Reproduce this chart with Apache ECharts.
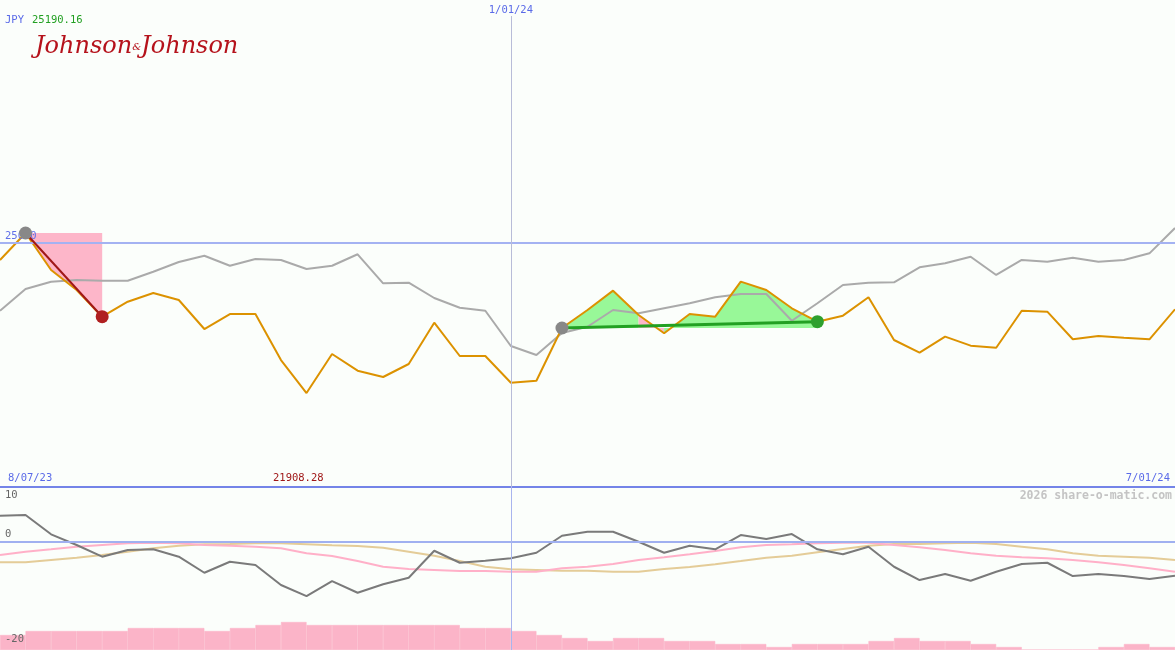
<!DOCTYPE html>
<html><head><meta charset="utf-8">
<script src="https://cdn.jsdelivr.net/npm/echarts@6/dist/echarts.min.js"></script>
<style>html,body{margin:0;padding:0;background:#fbfefb}#c{width:1175px;height:650px}</style>
</head><body><div id="c"></div>
<script>
// ---- data (weekly, 8/07/23 .. 7/01/24) ----
const dateLabels = ['8/07/23', '1/01/24', '7/01/24'];
const dateLabelIndex = [0, 20, 46];
const currency = 'JPY';
const lastPrice = '25190.16';
const minPrice = 21908.28;
const refLevel = 25000;

// share price in JPY (grey)
const priceJPY = [24142,24417,24510,24531,24522,24522,24636,24759,24839,24712,24797,24785,24671,24712,24857,24489,24497,24303,24180,24142,23695,23581,23860,23939,24151,24109,24173,24236,24312,24354,24354,24015,24236,24468,24497,24502,24692,24743,24826,24595,24785,24763,24814,24763,24785,24869,25190.16];
// share price in home currency, on the same scale (orange)
const priceLocal = [24785,25127,24658,24404,24066,24256,24366,24278,23910,24100,24100,23517,23099,23594,23382,23302,23467,23990,23568,23568,23230,23255,23923,24151,24396,24088,23856,24100,24066,24510,24404,24173,24003,24079,24312,23771,23610,23813,23699,23673,24142,24130,23780,23822,23800,23780,24160];

// lower panel indicators
const momentum = [4.71,4.84,1.29,-0.68,-2.83,-1.60,-1.47,-2.83,-5.78,-3.75,-4.36,-8.04,-10.07,-7.31,-9.46,-7.91,-6.70,-1.73,-3.94,-3.57,-3.13,-2.10,1.03,1.77,1.77,-0.07,-2.10,-0.81,-1.47,1.16,0.42,1.34,-1.47,-2.39,-0.99,-4.68,-7.12,-6.02,-7.25,-5.60,-4.18,-3.94,-6.39,-6.02,-6.39,-6.94,-6.33];
const avgFast = [-2.52,-1.91,-1.47,-0.99,-0.68,-0.37,-0.26,-0.37,-0.68,-0.81,-0.99,-1.29,-2.21,-2.71,-3.63,-4.68,-5.10,-5.28,-5.47,-5.47,-5.60,-5.60,-4.97,-4.68,-4.18,-3.44,-2.94,-2.39,-1.79,-1.10,-0.68,-0.55,-0.37,-0.26,-0.26,-0.68,-1.10,-1.60,-2.21,-2.65,-2.94,-3.13,-3.44,-3.87,-4.36,-4.97,-5.60];
const avgSlow = [-3.87,-3.87,-3.44,-3.02,-2.52,-1.91,-1.29,-0.81,-0.55,-0.50,-0.37,-0.37,-0.55,-0.74,-0.87,-1.18,-1.91,-2.65,-3.63,-4.68,-5.16,-5.28,-5.41,-5.41,-5.60,-5.60,-5.10,-4.73,-4.23,-3.63,-3.02,-2.65,-2.02,-1.42,-0.81,-0.50,-0.50,-0.37,-0.26,-0.50,-0.99,-1.47,-2.21,-2.65,-2.83,-3.02,-3.44];
const volume = [15,19,19,19,19,22,22,22,19,22,25,28,25,25,25,25,25,25,22,22,19,15,12,9,12,12,9,9,6,6,3,6,6,6,9,12,9,9,6,3,0,0,0,3,6,3];
const lowerTicks = [10, 0, -20];

// trades: [startIndex, endIndex]
const lossTrade = [1, 4];
const gainTrade = [22, 32];
const gainDipSegment = [25, 26];

// ---- build ----
const N = priceJPY.length;
const pts = (arr, a, b) => { const o = []; for (let i = a; i <= b; i++) o.push([i, arr[i]]); return o; };
const mono = '"DejaVu Sans Mono", monospace';
const yTop = 16, yMid = 487;
const pxPer = (refLevel - minPrice) / (yMid - 243);
const yMax = minPrice + (yMid - yTop) * pxPer;

function area(a, b, origin, color) {
  return { type: 'line', xAxisIndex: 0, yAxisIndex: 0, data: pts(priceLocal, a, b), symbol: 'none',
    lineStyle: { width: 0, opacity: 0 }, areaStyle: { color, opacity: 1, origin }, silent: true, z: 1 };
}

const chart = echarts.init(document.getElementById('c'), null, { renderer: 'canvas' });
chart.setOption({
  animation: false,
  backgroundColor: '#fbfefb',
  grid: [
    { left: 0, right: 0, top: yTop, height: yMid - yTop },
    { left: 0, right: 0, top: yMid, bottom: 0 }
  ],
  xAxis: [
    { type: 'value', gridIndex: 0, min: 0, max: N - 1, show: false },
    { type: 'value', gridIndex: 1, min: 0, max: N - 1, show: false },
    { type: 'category', gridIndex: 1, data: volume.map((v, i) => i), boundaryGap: true, show: false }
  ],
  yAxis: [
    { type: 'value', gridIndex: 0, min: minPrice, max: yMax, show: false },
    { type: 'value', gridIndex: 1, min: -20, max: 10, show: false },
    { type: 'value', gridIndex: 1, min: 0, max: 163, show: false }
  ],
  graphic: [
    { type: 'text', left: 5, top: 15, style: { text: currency, fill: '#5a6ae8', font: '10.5px ' + mono } },
    { type: 'text', left: 32, top: 15, style: { text: lastPrice, fill: '#22a022', font: '10.5px ' + mono } },
    { type: 'text', left: 35, top: 35, style: { text: '{a|Johnson}{b|&}{a|Johnson}', rich: {
        a: { fill: '#b5121b', font: 'italic 24px "DejaVu Serif", serif' },
        b: { fill: '#b5121b', font: 'italic 10px "DejaVu Serif", serif' } } } },
    { type: 'text', left: 8, top: 473, style: { text: dateLabels[0], fill: '#5a6ae8', font: '10.5px ' + mono } },
    { type: 'text', left: 273, top: 473, style: { text: minPrice.toFixed(2), fill: '#a01818', font: '10.5px ' + mono } },
    { type: 'text', right: 5, top: 473, style: { text: dateLabels[2], fill: '#5a6ae8', font: '10.5px ' + mono } },
    { type: 'text', right: 3, top: 490, style: { text: '2026 share-o-matic.com', fill: '#c4c4c4', font: 'bold 11.5px ' + mono } },
    { type: 'text', left: 5, top: 490, style: { text: String(lowerTicks[0]), fill: '#666', font: '10.5px ' + mono } },
    { type: 'text', left: 5, top: 529, style: { text: String(lowerTicks[1]), fill: '#666', font: '10.5px ' + mono } },
    { type: 'text', left: 5, top: 634, z: 100, style: { text: String(lowerTicks[2]), fill: '#666', font: '10.5px ' + mono } }
  ],
  series: [
    // volume
    { type: 'bar', xAxisIndex: 2, yAxisIndex: 2, data: volume, barCategoryGap: '0%', barGap: '0%',
      itemStyle: { color: '#fbb4c8', borderColor: '#fbb4c8', borderWidth: 0.6 }, silent: true, z: 0 },
    // lower indicators
    { type: 'line', xAxisIndex: 1, yAxisIndex: 1, data: avgSlow.map((v, i) => [i, v]), symbol: 'none',
      lineStyle: { color: '#e4cc98', width: 2 }, z: 2 },
    { type: 'line', xAxisIndex: 1, yAxisIndex: 1, data: avgFast.map((v, i) => [i, v]), symbol: 'none',
      lineStyle: { color: '#ffb0c8', width: 2 }, z: 2 },
    { type: 'line', xAxisIndex: 1, yAxisIndex: 1, data: momentum.map((v, i) => [i, v]), symbol: 'none',
      lineStyle: { color: '#7a7a7a', width: 2 }, z: 3,
      markLine: { symbol: 'none', silent: true, label: { show: false },
        data: [
          { yAxis: 0, lineStyle: { color: '#a0b0f0', width: 2, type: 'solid' } },
          { yAxis: 10, lineStyle: { color: '#7484e8', width: 2, type: 'solid' } },
          { xAxis: dateLabelIndex[1], lineStyle: { color: '#a8b4ee', width: 1, type: 'solid' } }
        ] } },
    // trade shading
    area(lossTrade[0], lossTrade[1], priceLocal[lossTrade[0]], '#fdb6c9'),
    area(gainTrade[0], gainDipSegment[0], priceLocal[gainTrade[0]], '#98f898'),
    area(gainDipSegment[0], gainDipSegment[1], priceLocal[gainTrade[0]], '#fdb6c9'),
    area(gainDipSegment[1], gainTrade[1], priceLocal[gainTrade[0]], '#98f898'),
    // JPY price
    { type: 'line', xAxisIndex: 0, yAxisIndex: 0, data: priceJPY.map((v, i) => [i, v]), symbol: 'none',
      lineStyle: { color: '#aaaaaa', width: 2 }, z: 3,
      markLine: { symbol: 'none', silent: true,
        data: [
          { yAxis: refLevel, lineStyle: { color: '#a4b2f2', width: 2, type: 'solid' },
            label: { show: true, position: 'insideStartTop', formatter: String(refLevel), color: '#6070e8',
              fontFamily: '"DejaVu Sans Mono", monospace', fontSize: 10.5, distance: [5, 1] } },
          { xAxis: dateLabelIndex[1], lineStyle: { color: '#b8bcd8', width: 1, type: 'solid' },
            label: { show: true, position: 'end', formatter: dateLabels[1], color: '#5a6ae8',
              fontFamily: '"DejaVu Sans Mono", monospace', fontSize: 10.5, distance: 0 } }
        ] } },
    // local price
    { type: 'line', xAxisIndex: 0, yAxisIndex: 0, data: priceLocal.map((v, i) => [i, v]), symbol: 'none',
      lineStyle: { color: '#dc9200', width: 2 }, z: 4 },
    // trade lines
    { type: 'line', xAxisIndex: 0, yAxisIndex: 0, data: [[lossTrade[0], priceLocal[lossTrade[0]]], [lossTrade[1], priceLocal[lossTrade[1]]]],
      symbol: 'none', lineStyle: { color: '#a01818', width: 2 }, z: 5 },
    { type: 'line', xAxisIndex: 0, yAxisIndex: 0, data: [[gainTrade[0], priceLocal[gainTrade[0]]], [gainTrade[1], priceLocal[gainTrade[1]]]],
      symbol: 'none', lineStyle: { color: '#22a022', width: 3 }, z: 5 },
    // trade dots
    { type: 'scatter', xAxisIndex: 0, yAxisIndex: 0, symbolSize: 13, z: 6,
      data: [
        { value: [lossTrade[0], priceLocal[lossTrade[0]]], itemStyle: { color: '#888888', opacity: 1 } },
        { value: [lossTrade[1], priceLocal[lossTrade[1]]], itemStyle: { color: '#b02020', opacity: 1 } },
        { value: [gainTrade[0], priceLocal[gainTrade[0]]], itemStyle: { color: '#888888', opacity: 1 } },
        { value: [gainTrade[1], priceLocal[gainTrade[1]]], itemStyle: { color: '#2ea02e', opacity: 1 } }
      ] }
  ]
});
</script></body></html>
